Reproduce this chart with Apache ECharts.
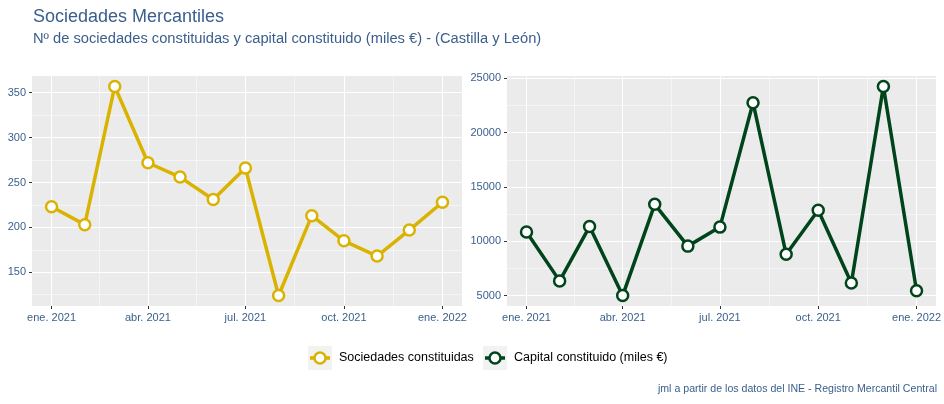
<!DOCTYPE html>
<html lang="es">
<head>
<meta charset="UTF-8">
<title>Sociedades Mercantiles</title>
<script src="https://cdn.jsdelivr.net/npm/echarts@6/dist/echarts.min.js"></script>
<style>
    body { margin: 0; background: #fff; }
    #chart { width: 944px; height: 404px; }
</style>
</head>
<body>
<div id="chart"></div>
<script>
    // datos mensuales
    var months = ['2021-01-01', '2021-02-01', '2021-03-01', '2021-04-01', '2021-05-01', '2021-06-01', '2021-07-01',
                  '2021-08-01', '2021-09-01', '2021-10-01', '2021-11-01', '2021-12-01', '2022-01-01'];
    var sociedades = [223, 203, 357, 272, 256, 231, 266, 124, 213, 185, 168, 197, 228];
    var capital = [10850, 6350, 11350, 5000, 13400, 9550, 11300, 22750, 8800, 12850, 6150, 24250, 5450];

    // marcas de los ejes
    var tickDates = ['2021-01-01', '2021-04-01', '2021-07-01', '2021-10-01', '2022-01-01'];
    var tickLabels = ['ene. 2021', 'abr. 2021', 'jul. 2021', 'oct. 2021', 'ene. 2022'];
    var socTicks = [150, 200, 250, 300, 350];
    var socMinor = [125, 175, 225, 275, 325];
    var capTicks = [5000, 10000, 15000, 20000, 25000];
    var capMinor = [7500, 12500, 17500, 22500];

    var yellow = '#D9B300';
    var green = '#00441B';
    var blue = '#3A5F8C';
    var font = 'Liberation Sans, Arial, sans-serif';

    // dias desde el primer mes
    function day(s) {
        return (Date.parse(s) - Date.parse(months[0])) / 86400000;
    }
    var xDays = months.map(day);
    var tickDays = tickDates.map(day);
    var minorDays = [];
    for (var i = 0; i < tickDays.length - 1; i++) {
        minorDays.push((tickDays[i] + tickDays[i + 1]) / 2);
    }

    // expansion del 5% como ggplot
    function expand(arr) {
        var lo = Math.min.apply(null, arr), hi = Math.max.apply(null, arr);
        var pad = (hi - lo) * 0.05;
        return [lo - pad, hi + pad];
    }
    var xr = expand(xDays);
    var socR = expand(sociedades);
    var capR = expand(capital);

    function pairs(vals) {
        return vals.map(function (v, i) { return [xDays[i], v]; });
    }

    function xLabel(v) {
        var k = tickDays.indexOf(v);
        return k >= 0 ? tickLabels[k] : '';
    }

    function xAxes(g) {
        return [{
            type: 'value', gridIndex: g, min: xr[0], max: xr[1], position: 'bottom',
            axisLine: { show: false, onZero: false },
            axisTick: { show: true, length: 3, lineStyle: { color: '#333', width: 1 }, customValues: tickDays },
            axisLabel: { customValues: tickDays, formatter: xLabel, color: blue, fontSize: 11, margin: 6, fontFamily: font },
            splitLine: { show: true, lineStyle: { color: '#fff', width: 1.1 } }
        }, {
            type: 'value', gridIndex: g, min: xr[0], max: xr[1], position: 'bottom',
            axisLine: { show: false, onZero: false },
            axisTick: { show: false, customValues: minorDays },
            axisLabel: { show: false },
            splitLine: { show: true, lineStyle: { color: '#fff', width: 0.5 } }
        }];
    }

    function yAxes(g, r, major, minor) {
        return [{
            type: 'value', gridIndex: g, min: r[0], max: r[1],
            axisLine: { show: false, onZero: false },
            axisTick: { show: true, length: 3, lineStyle: { color: '#333', width: 1 }, customValues: major },
            axisLabel: { customValues: major, color: blue, fontSize: 11, margin: 6, fontFamily: font,
                         formatter: function (v) { return String(v); } },
            splitLine: { show: true, lineStyle: { color: '#fff', width: 1.1 } }
        }, {
            type: 'value', gridIndex: g, min: r[0], max: r[1],
            axisLine: { show: false, onZero: false },
            axisTick: { show: false, customValues: minor },
            axisLabel: { show: false },
            splitLine: { show: true, lineStyle: { color: '#fff', width: 0.5 } }
        }];
    }

    function lineSeries(name, vals, color, xi, yi) {
        return {
            name: name, type: 'line', xAxisIndex: xi, yAxisIndex: yi,
            data: pairs(vals),
            symbol: 'circle', symbolSize: 11,
            lineStyle: { color: color, width: 3.5 },
            itemStyle: { color: '#fff', borderColor: color, borderWidth: 2.5 },
            emphasis: { disabled: true },
            z: 5
        };
    }

    // leyenda dibujada a mano (clave gris + linea + punto)
    var legendItems = [
        { name: 'Sociedades constituidas', color: yellow, x: 308 },
        { name: 'Capital constituido (miles €)', color: green, x: 483 }
    ];
    var legendY = 358;
    var graphics = [];
    legendItems.forEach(function (it) {
        graphics.push({ type: 'rect', shape: { x: it.x, y: legendY - 12, width: 24, height: 24 }, style: { fill: '#F2F2F2' } });
        graphics.push({ type: 'line', shape: { x1: it.x + 2, y1: legendY, x2: it.x + 22, y2: legendY }, style: { stroke: it.color, lineWidth: 3.5 } });
        graphics.push({ type: 'circle', shape: { cx: it.x + 12, cy: legendY, r: 5.5 }, style: { fill: '#fff', stroke: it.color, lineWidth: 2.5 } });
        graphics.push({ type: 'text', x: it.x + 31, y: legendY,
            style: { text: it.name, fill: '#000', fontSize: 12.5, fontFamily: font, verticalAlign: 'middle', align: 'left' } });
    });
    graphics.push({ type: 'text', x: 937, y: 389,
        style: { text: 'jml a partir de los datos del INE - Registro Mercantil Central', fill: blue, fontSize: 10.6,
                 fontFamily: font, align: 'right', verticalAlign: 'middle' } });

    var chart = echarts.init(document.getElementById('chart'), null, { renderer: 'canvas' });
    var option = {
        animation: false,
        textStyle: { fontFamily: font },
        title: [{
            text: 'Sociedades Mercantiles', left: 33, top: 8, padding: 0,
            textStyle: { color: blue, fontSize: 18, fontWeight: 'normal', fontFamily: font }
        }, {
            text: 'Nº de sociedades constituidas y capital constituido (miles €) - (Castilla y León)', left: 33, top: 31, padding: 0,
            textStyle: { color: blue, fontSize: 14.7, fontWeight: 'normal', fontFamily: font }
        }],
        grid: [
            { left: 32, top: 76, width: 430, height: 230, show: true, backgroundColor: '#EBEBEB', borderWidth: 0 },
            { left: 507, top: 76, width: 430, height: 230, show: true, backgroundColor: '#EBEBEB', borderWidth: 0 }
        ],
        xAxis: xAxes(0).concat(xAxes(1)),
        yAxis: yAxes(0, socR, socTicks, socMinor).concat(yAxes(1, capR, capTicks, capMinor)),
        series: [
            lineSeries('Sociedades constituidas', sociedades, yellow, 0, 0),
            lineSeries('Capital constituido (miles €)', capital, green, 2, 2)
        ],
        graphic: graphics
    };
    chart.setOption(option);
</script>
</body>
</html>
